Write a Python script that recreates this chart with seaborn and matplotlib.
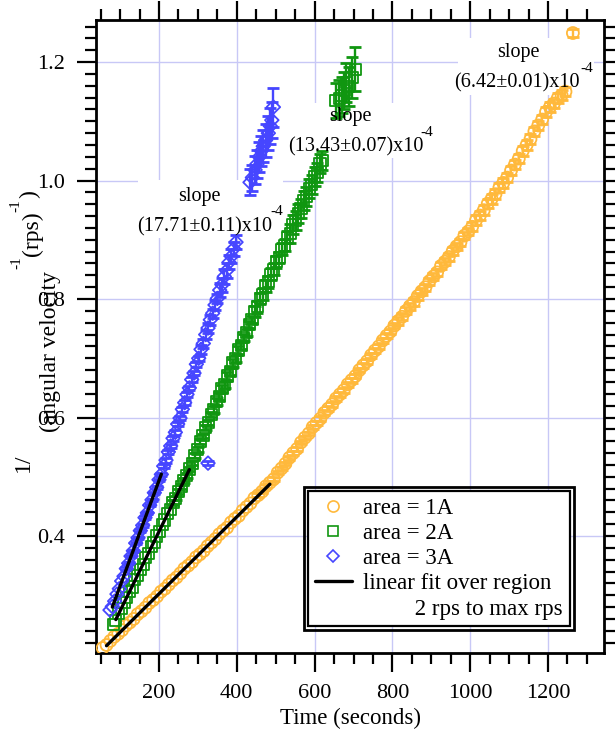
import numpy as np
import matplotlib
matplotlib.use("Agg")
import matplotlib.pyplot as plt
import seaborn as sns
from matplotlib.lines import Line2D
from matplotlib.patches import Rectangle
from matplotlib.ticker import MultipleLocator
from matplotlib.transforms import IdentityTransform

# ---------------- data ----------------
t_1a = np.array([55, 65, 75, 85, 95, 105, 115, 125, 135, 145, 155, 165, 175, 185, 195,
                 205, 215, 225, 235, 245, 255, 265, 275, 285, 295, 305, 315, 325, 335, 345,
                 355, 365, 375, 385, 395, 405, 415, 425, 435, 445, 455, 465, 475, 485, 495,
                 505, 515, 525, 535, 545, 555, 565, 575, 585, 595, 605, 615, 625, 635, 645,
                 655, 665, 675, 685, 695, 705, 715, 725, 735, 745, 755, 765, 775, 785, 795,
                 805, 815, 825, 835, 845, 855, 865, 875, 885, 895, 905, 915, 925, 935, 945,
                 955, 965, 975, 985, 995, 1005, 1015, 1025, 1035, 1045, 1055, 1065, 1075,
                 1085, 1095, 1105, 1115, 1125, 1135, 1145, 1155, 1165, 1175, 1185, 1195,
                 1205, 1215, 1225, 1235, 1245, 1264])
y_1a = np.array([0.211, 0.216, 0.223, 0.230, 0.235, 0.241, 0.249, 0.254, 0.260, 0.268,
                 0.273, 0.279, 0.287, 0.292, 0.298, 0.306, 0.311, 0.318, 0.325, 0.330,
                 0.337, 0.345, 0.350, 0.356, 0.364, 0.369, 0.375, 0.383, 0.389, 0.395,
                 0.403, 0.409, 0.414, 0.423, 0.429, 0.434, 0.443, 0.449, 0.455, 0.464,
                 0.469, 0.475, 0.484, 0.490, 0.496, 0.507, 0.514, 0.522, 0.532, 0.540,
                 0.547, 0.558, 0.566, 0.573, 0.584, 0.591, 0.598, 0.608, 0.615, 0.622,
                 0.632, 0.639, 0.646, 0.656, 0.663, 0.670, 0.680, 0.688, 0.695, 0.705,
                 0.713, 0.720, 0.730, 0.738, 0.745, 0.755, 0.763, 0.770, 0.780, 0.788,
                 0.795, 0.805, 0.813, 0.820, 0.830, 0.838, 0.845, 0.856, 0.863, 0.871,
                 0.881, 0.889, 0.896, 0.907, 0.914, 0.922, 0.933, 0.941, 0.950, 0.961,
                 0.969, 0.977, 0.988, 0.996, 1.005, 1.017, 1.027, 1.037, 1.050, 1.060,
                 1.070, 1.083, 1.093, 1.103, 1.116, 1.124, 1.130, 1.139, 1.144, 1.150,
                 1.249])
e_1a = np.array([0.0] * 40 + [0.003] * 16 + [0.004] * 20 + [0.006] * 19 + [0.008] * 25 + [0.007])

t_2a = np.array([82, 89, 96, 103, 110, 117, 124, 131, 138, 145, 152, 159, 166, 173, 180,
                 187, 194, 201, 208, 215, 222, 229, 236, 243, 250, 257, 264, 271, 278, 285,
                 292, 299, 306, 313, 320, 327, 334, 341, 348, 355, 362, 369, 376, 383, 390,
                 397, 404, 411, 418, 425, 432, 439, 446, 453, 460, 467, 474, 481, 488, 495,
                 502, 509, 516, 523, 530, 537, 544, 551, 558, 565, 572, 579, 586, 593, 600,
                 607, 614, 620, 655, 663, 670, 676, 682, 688, 696, 704])
y_2a = np.array([0.250, 0.258, 0.269, 0.277, 0.288, 0.296, 0.307, 0.314, 0.326, 0.333,
                 0.344, 0.352, 0.363, 0.370, 0.382, 0.389, 0.400, 0.408, 0.419, 0.427,
                 0.438, 0.445, 0.457, 0.464, 0.475, 0.483, 0.494, 0.502, 0.513, 0.523,
                 0.536, 0.546, 0.560, 0.569, 0.583, 0.592, 0.605, 0.614, 0.627, 0.635,
                 0.649, 0.656, 0.670, 0.678, 0.692, 0.700, 0.714, 0.722, 0.735, 0.743,
                 0.757, 0.765, 0.779, 0.787, 0.801, 0.808, 0.822, 0.829, 0.842, 0.850,
                 0.863, 0.870, 0.884, 0.891, 0.904, 0.911, 0.925, 0.932, 0.945, 0.953,
                 0.966, 0.973, 0.987, 0.994, 1.007, 1.014, 1.028, 1.034,
                 1.135, 1.139, 1.144, 1.152, 1.165, 1.158, 1.174, 1.188])
e_2a = np.array([0.0] * 22 + [0.004] * 15 + [0.006] * 15 + [0.010] * 13 + [0.016] * 13 +
                [0.030, 0.030, 0.030, 0.032, 0.033, 0.033, 0.035, 0.037])

t_3a = np.array([74, 80, 86, 92, 98, 104, 110, 116, 122, 128, 134, 140, 146, 152, 158,
                 164, 170, 176, 182, 188, 194, 200, 206, 212, 218, 224, 230, 236, 242, 248,
                 254, 260, 266, 272, 278, 284, 290, 296, 302, 308, 314, 320, 326, 332, 338,
                 344, 350, 356, 362, 368, 374, 380, 386, 392, 398,
                 434, 440, 447, 452, 458, 463, 468, 474, 481, 486, 490, 494, 326])
y_3a = np.array([0.275, 0.281, 0.290, 0.302, 0.311, 0.324, 0.332, 0.345, 0.354, 0.366,
                 0.375, 0.388, 0.397, 0.409, 0.418, 0.431, 0.439, 0.452, 0.461, 0.473,
                 0.482, 0.495, 0.504, 0.518, 0.528, 0.542, 0.552, 0.565, 0.575, 0.589,
                 0.599, 0.614, 0.625, 0.639, 0.650, 0.664, 0.675, 0.690, 0.700, 0.715,
                 0.725, 0.740, 0.751, 0.765, 0.776, 0.790, 0.801, 0.815, 0.824, 0.838,
                 0.848, 0.862, 0.872, 0.885, 0.896,
                 0.997, 1.005, 1.018, 1.028, 1.040, 1.050, 1.058, 1.068, 1.080, 1.092,
                 1.102, 1.124, 0.523])
e_3a = np.array([0.0] * 7 + [0.002] * 16 + [0.004] * 16 + [0.008] * 8 + [0.012] * 8 +
                [0.022, 0.022, 0.024, 0.024, 0.025, 0.026, 0.027, 0.028, 0.029, 0.030,
                 0.031, 0.033, 0.004])

# fit regions (seconds)
fit_1a = (60, 490)
fit_2a = (85, 280)
fit_3a = (78, 207)

legend_labels = ["area = 1A", "area = 2A", "area = 3A", "linear fit over region",
                 "2 rps to max rps"]
slope_texts = ["(17.71\u00b10.11)x10", "(13.43\u00b10.07)x10", "(6.42\u00b10.01)x10"]
x_ticks = [200, 400, 600, 800, 1000, 1200]
y_ticks = [0.4, 0.6, 0.8, 1.0, 1.2]

c_1a, c_2a, c_3a = "#ffb93c", "#109610", "#4646ff"

# ---------------- style ----------------
sns.set_theme(style="white")
plt.rcParams["font.family"] = ["Liberation Serif", "DejaVu Serif"]
plt.rcParams["axes.unicode_minus"] = False

W, H = 615, 730
fig = plt.figure(figsize=(W / 100, H / 100), dpi=100)
L, R, T, B = 96, 604, 20, 653
ax = fig.add_axes([L / W, 1 - B / H, (R - L) / W, (B - T) / H])


def fx(px):
    return px / W


def fy(py):
    return 1 - py / H


ax.set_axisbelow(True)
ax.grid(True, which="major", color="#c8c8f6", lw=1.0)

series = [(t_1a, y_1a, e_1a, c_1a, "o", 74, fit_1a),
          (t_2a, y_2a, e_2a, c_2a, "s", 64, fit_2a),
          (t_3a, y_3a, e_3a, c_3a, "D", 48, fit_3a)]

for t, y, e, c, m, s, fr in series:
    mask = e > 0
    ax.errorbar(t[mask], y[mask], yerr=e[mask], fmt="none", ecolor=c,
                elinewidth=1.7, capsize=4.5, capthick=2.0, zorder=2)
    sns.scatterplot(x=t, y=y, marker=m, s=s, facecolor="none", edgecolor=c,
                    linewidth=1.3, ax=ax, zorder=3)

for t, y, e, c, m, s, fr in series:
    sel = (t >= fr[0]) & (t <= fr[1])
    sns.regplot(x=t[sel], y=y[sel], scatter=False, ci=None, truncate=True,
                color="black", line_kws=dict(lw=2.4, zorder=4), ax=ax)

ax.set_xlim(38, 1344)
ax.set_ylim(0.2025, 1.271)
ax.set_xticks(x_ticks)
ax.set_xticklabels([str(v) for v in x_ticks])
ax.set_yticks(y_ticks)
ax.set_yticklabels([f"{v:.1f}" for v in y_ticks])
ax.xaxis.set_minor_locator(MultipleLocator(50))
ax.yaxis.set_minor_locator(MultipleLocator(0.02))
ax.tick_params(which="both", direction="out", top=True, right=True, bottom=True,
               left=True, labeltop=False, labelright=False, width=1.6,
               color="black", labelsize=16, labelcolor="black")
ax.tick_params(which="major", length=14)
ax.tick_params(which="minor", length=8)
ax.tick_params(axis="x", which="major", pad=8)
ax.tick_params(axis="y", which="major", pad=8)
for sp in ax.spines.values():
    sp.set_visible(True)
    sp.set_color("black")
    sp.set_linewidth(2.0)

ax.set_xlabel("Time (seconds)", fontsize=16.5, color="black", labelpad=4)
ax.set_ylabel("")

# y-axis label pieces (as drawn in the original)
fig.text(fx(23), fy(463), "1/", rotation=90, ha="center", va="center",
         fontsize=17, color="black")
fig.text(fx(50), fy(352), "(angular velocity", rotation=90, ha="center",
         va="center", fontsize=17, color="black")
fig.text(fx(17), fy(263), "-1", rotation=90, ha="center", va="center",
         fontsize=11, color="black")
fig.text(fx(32), fy(234), "(rps)", rotation=90, ha="center", va="center",
         fontsize=17, color="black")
fig.text(fx(16), fy(206), "-1", rotation=90, ha="center", va="center",
         fontsize=11, color="black")
fig.text(fx(30), fy(194), ")", rotation=90, ha="center", va="center",
         fontsize=17, color="black")

# slope annotations with white backgrounds
boxes = [(138, 180, 283, 238), (288, 103, 432, 158), (458, 38, 594, 95)]
slope_pos = [(199, 197), (350, 117), (518, 53)]
val_pos = [(205, 227), (356, 147), (517, 83)]
exp_pos = [(277, 212), (427, 133), (587, 69)]
for bx, sp_, vp, ep, txt in zip(boxes, slope_pos, val_pos, exp_pos, slope_texts):
    x0, y0, x1, y1 = bx
    ax.add_patch(Rectangle((fx(x0), fy(y1)), (x1 - x0) / W, (y1 - y0) / H,
                           transform=fig.transFigure, fc="white", ec="none",
                           zorder=1.5))
    ax.text(fx(sp_[0]), fy(sp_[1]), "slope", transform=fig.transFigure,
            ha="center", va="center", fontsize=14.5, color="black", zorder=6)
    ax.text(fx(vp[0]), fy(vp[1]), txt, transform=fig.transFigure,
            ha="center", va="center", fontsize=14.5, color="black", zorder=6)
    ax.text(fx(ep[0]), fy(ep[1]), "-4", transform=fig.transFigure,
            ha="center", va="center", fontsize=11, color="black", zorder=6)

# legend
handles = [Line2D([], [], ls="", marker="o", ms=8.0, mfc="none", mec=c_1a, mew=1.2),
           Line2D([], [], ls="", marker="s", ms=7.2, mfc="none", mec=c_2a, mew=1.2),
           Line2D([], [], ls="", marker="D", ms=6.0, mfc="none", mec=c_3a, mew=1.2),
           Line2D([], [], color="black", lw=2.4),
           Line2D([], [], ls="", marker="")]
labels = legend_labels[:4] + ["         " + legend_labels[4]]
leg = ax.legend(handles, labels, loc="upper left", bbox_to_anchor=(fx(308), fy(491)),
                bbox_transform=fig.transFigure, borderaxespad=0, fontsize=16.5,
                frameon=True, fancybox=False, framealpha=1, facecolor="white",
                edgecolor="black", borderpad=0.3, labelspacing=0.18,
                handlelength=1.6, handletextpad=0.5)
leg.get_frame().set_linewidth(1.6)
for txt in leg.get_texts():
    txt.set_color("black")

fig.canvas.draw()
bb = leg.get_window_extent(fig.canvas.get_renderer())
fig.add_artist(Rectangle((bb.x0 - 4, bb.y0 - 4), bb.width + 8, bb.height + 8,
                         transform=IdentityTransform(), fill=False, ec="black",
                         lw=2.0, zorder=10))

fig.savefig("out.png", dpi=100)
